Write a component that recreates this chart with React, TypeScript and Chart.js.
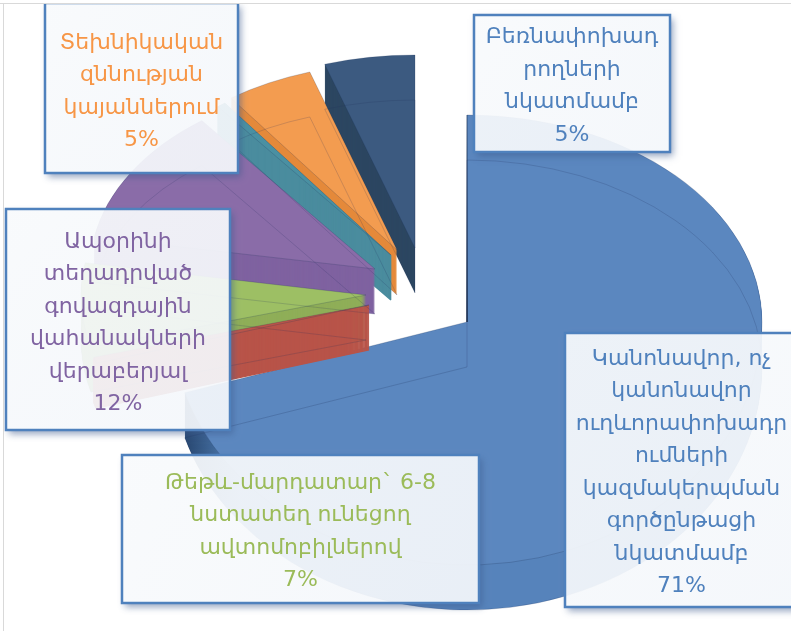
import React, { useEffect, useRef } from "react";
import { Chart, registerables } from "chart.js";

Chart.register(...registerables);

// ---- data ----
const categories = [
  "Կանոնավոր, ոչ|կանոնավոր|ուղևորափոխադր|ումների|կազմակերպման|գործընթացի|նկատմամբ",
  "",
  "Թեթև-մարդատար` 6-8|նստատեղ ունեցող|ավտոմոբիլներով",
  "Ապօրինի|տեղադրված|գովազդային|վահանակների|վերաբերյալ",
  "",
  "Տեխնիկական|զննության|կայաններում",
  "Բեռնափոխադ|րողների|նկատմամբ",
];
const shownValues = [71, null, 7, 12, null, 5, 5];
const values = [71, 0.5, 7, 12, 0.5, 5, 5];
const faceColors = ["#5b87bf", "#b9554a", "#9dbf64", "#8a6ca8", "#4a90a2", "#f39c50", "#3c5a80"];
const wallColors = ["#5683bb", "#b85449", "#8fae58", "#7f62a0", "#4a8c9e", "#e4893a", "#2c4661"];
const textColors = ["#4f81bd", "", "#9bbb59", "#8064a2", "", "#f79646", "#4f81bd"];

// ---- layout ----
const DEPTH = 45;
const sliceLayout = [
  { ax: 467, ay: 322, rx: 295, back: 207, front: 243 },
  { ax: 369, ay: 305, rx: 285, back: 190, front: 200 },
  { ax: 366, ay: 295, rx: 285, back: 190, front: 200 },
  { ax: 375, ay: 269, rx: 285, back: 187, front: 200 },
  { ax: 391, ay: 255, rx: 285, back: 187, front: 200 },
  { ax: 397, ay: 250, rx: 285, back: 187, front: 200 },
  { ax: 415, ay: 248, rx: 295, back: 193, front: 200 },
];
const drawOrder = [6, 5, 4, 3, 2, 0, 1];
const boxes = [
  { i: 6, x0: 474, y0: 15, x1: 670, y1: 152, shift: 3 },
  { i: 5, x0: 45, y0: 3, x1: 238, y1: 173, shift: 4 },
  { i: 3, x0: 6, y0: 209, x1: 230, y1: 430, shift: 4 },
  { i: 2, x0: 122, y0: 455, x1: 479, y1: 603, shift: 3 },
  { i: 0, x0: 565, y0: 333, x1: 800, y1: 607, shift: 3 },
];
const FONT = '22px "DejaVu Sans"';
const LINE = 32.5;

function withFace(ctx: any, arc: any, l: any, dy: number, paint: () => void) {
  const R = arc.outerRadius;
  const parts = [
    { ky: l.back, clipY: -1000, clipH: 1000 + l.ay + dy },
    { ky: l.front, clipY: l.ay + dy, clipH: 2000 },
  ];
  for (const p of parts) {
    ctx.save();
    ctx.beginPath();
    ctx.rect(-100, p.clipY, 1100, p.clipH);
    ctx.clip();
    ctx.translate(l.ax, l.ay + dy);
    ctx.scale(l.rx / R, p.ky / R);
    ctx.translate(-arc.x, -arc.y);
    paint();
    ctx.restore();
  }
}

function paintArc(ctx: any, arc: any, fill: any, stroke: any, width: number) {
  const base = arc.options;
  arc.options = Object.assign(Object.create(base), {
    backgroundColor: fill,
    borderColor: stroke,
    borderWidth: width,
    borderAlign: "center",
    offset: 0,
    spacing: 0,
  });
  arc.draw(ctx);
  arc.options = base;
}

const pie3d = {
  id: "pie3d",
  beforeDatasetsDraw(chart: any) {
    const ctx = chart.ctx;
    const arcs = chart.getDatasetMeta(0).data;
    for (const i of drawOrder) {
      const arc = arcs[i];
      const l = sliceLayout[i];
      let wall: any = wallColors[i];
      if (i === 0) {
        // dark shading where the big slice's rim turns away, at its left end
        const R = arc.outerRadius;
        const px = (x: number) => arc.x + ((x - l.ax) * R) / l.rx;
        wall = ctx.createLinearGradient(px(188), 0, px(240), 0);
        wall.addColorStop(0, "#2a4a74");
        wall.addColorStop(0.5, "#3f6798");
        wall.addColorStop(1, wallColors[0]);
      }
      const thin = arc.circumference < 0.1;
      for (let d = DEPTH; d > 0; d -= 1) {
        withFace(ctx, arc, l, d, () => paintArc(ctx, arc, wall, thin ? wall : "transparent", thin ? 2 : 0));
      }
      withFace(ctx, arc, l, 0, () => paintArc(ctx, arc, faceColors[i], "rgba(30,50,90,0.28)", 1));
      if (i === 0) {
        // dark inner edge along the slice's straight side, at twelve o'clock
        const g = ctx.createLinearGradient(0, l.ay - l.back, 0, l.ay);
        g.addColorStop(0, "rgba(30,55,90,0.35)");
        g.addColorStop(1, "rgba(20,40,70,0.95)");
        ctx.strokeStyle = g;
        ctx.lineWidth = 1.6;
        ctx.beginPath();
        ctx.moveTo(l.ax, l.ay - l.back);
        ctx.lineTo(l.ax, l.ay);
        ctx.stroke();
      }
    }
    // far-side outlines, seen through the wider slices
    for (const i of drawOrder) {
      const arc = arcs[i];
      if (arc.circumference < 0.1) continue;
      const l = sliceLayout[i];
      withFace(ctx, arc, l, DEPTH, () => paintArc(ctx, arc, "transparent", "rgba(30,45,90,0.25)", 1));
    }
    return false;
  },
  afterDraw(chart: any) {
    const ctx = chart.ctx;
    const labels = chart.data.labels;
    for (const b of boxes) {
      const w = b.x1 - b.x0;
      const h = b.y1 - b.y0;
      ctx.save();
      ctx.beginPath();
      ctx.rect(0, 0, 791, 631);
      ctx.rect(b.x0, b.y0, w, h);
      ctx.clip("evenodd");
      ctx.shadowColor = "rgba(60,90,140,0.55)";
      ctx.shadowBlur = 7;
      ctx.shadowOffsetX = 3;
      ctx.shadowOffsetY = 4;
      ctx.fillStyle = "#ffffff";
      ctx.fillRect(b.x0, b.y0, w, h);
      ctx.restore();

      const g = ctx.createLinearGradient(b.x0, b.y0, b.x1, b.y1);
      g.addColorStop(0, "rgba(248,250,252,0.93)");
      g.addColorStop(1, "rgba(244,247,251,0.93)");
      ctx.fillStyle = g;
      ctx.fillRect(b.x0, b.y0, w, h);
      ctx.strokeStyle = "#4f81bd";
      ctx.lineWidth = 2.5;
      ctx.strokeRect(b.x0, b.y0, w, h);

      const lines = String(labels[b.i]).split("|");
      lines.push(`${shownValues[b.i]}%`);
      ctx.font = FONT;
      ctx.fillStyle = textColors[b.i];
      ctx.textAlign = "center";
      ctx.textBaseline = "middle";
      const cx = (b.x0 + Math.min(b.x1, 798)) / 2;
      const cy = (b.y0 + b.y1) / 2 + b.shift;
      lines.forEach((t, n) => {
        ctx.fillText(t, cx, cy + (n - (lines.length - 1) / 2) * LINE);
      });
    }
  },
};

export default function App() {
  const ref = useRef<HTMLCanvasElement | null>(null);
  useEffect(() => {
    document.body.style.margin = "0";
    const chart = new Chart(ref.current as any, {
      type: "pie",
      data: {
        labels: categories,
        datasets: [{ data: values, backgroundColor: faceColors, borderWidth: 0 }],
      },
      options: {
        responsive: false,
        animation: false,
        plugins: { legend: { display: false }, tooltip: { enabled: false } },
      },
      plugins: [pie3d],
    } as any);
    return () => chart.destroy();
  }, []);
  return (
    <div style={{ position: "relative", width: 791, height: 631, overflow: "hidden", background: "#fff" }}>
      <canvas ref={ref} width={791} height={631} style={{ position: "absolute", left: 0, top: 0 }} />
      <div style={{ position: "absolute", left: 0, top: 0, width: 3, height: 631, background: "#fff", borderRight: "1.5px solid #d9d9d9" }} />
      <div style={{ position: "absolute", left: 0, top: 0, width: 791, height: 3, background: "#fff", borderBottom: "1.5px solid #d9d9d9" }} />
    </div>
  );
}
